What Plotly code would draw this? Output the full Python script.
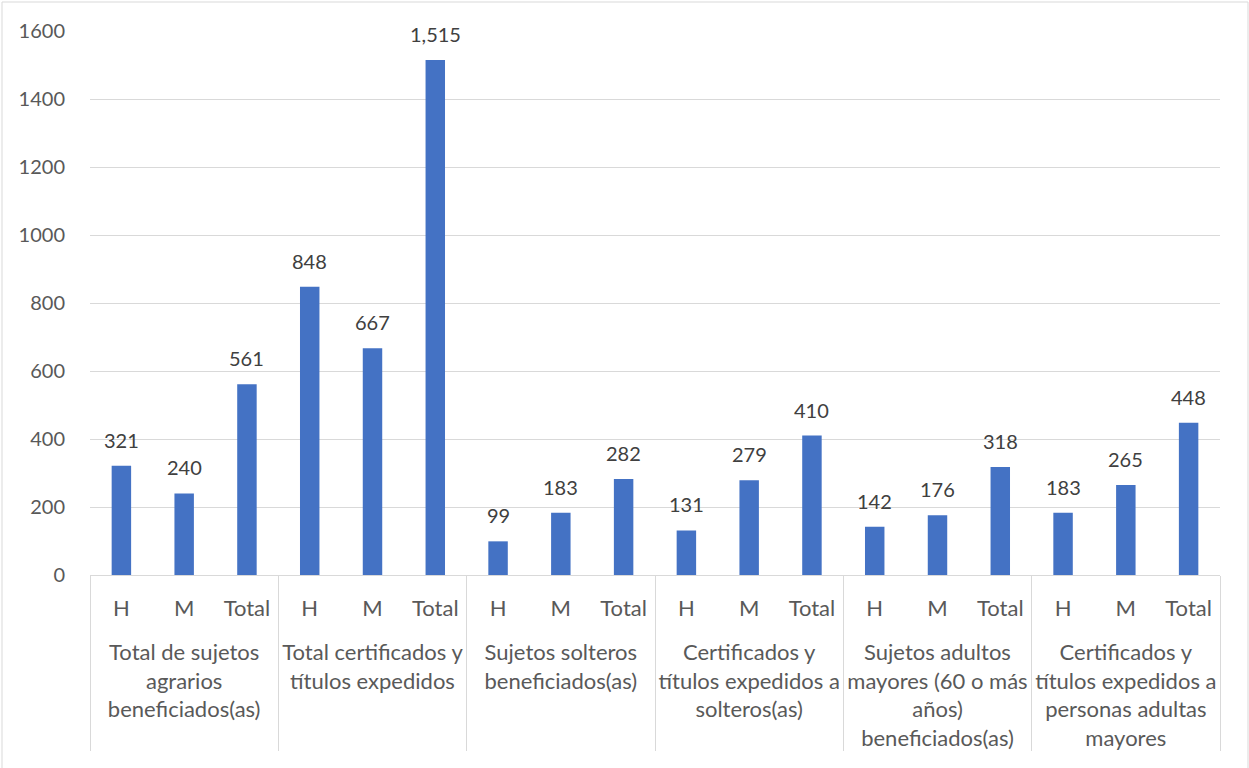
import plotly.graph_objects as go

groups = [
    "Total de sujetos<br>agrarios<br>beneficiados(as)",
    "Total certificados y<br>títulos expedidos",
    "Sujetos solteros<br>beneficiados(as)",
    "Certificados y<br>títulos expedidos a<br>solteros(as)",
    "Sujetos adultos<br>mayores (60 o más<br>años)<br>beneficiados(as)",
    "Certificados y<br>títulos expedidos a<br>personas adultas<br>mayores",
]
subcats = ["H", "M", "Total"]
values = [321, 240, 561, 848, 667, 1515, 99, 183, 282,
          131, 279, 410, 142, 176, 318, 183, 265, 448]

# leading blank line pushes the group labels below the H / M / Total row
x_groups = ["<br>" + g for g in groups for _ in subcats]
x_subs = [s for _ in groups for s in subcats]

FONT = "Lato"
W, H = 1249, 768
ML, MR, MT, MB = 90, 29, 31, 193

fig = go.Figure(go.Bar(
    x=[x_groups, x_subs],
    y=values,
    marker=dict(color="#4472C4", line=dict(width=0)),
    width=0.31,
    hoverinfo="y",
))

# data labels: anchored to each bar's category position and value
for i, v in enumerate(values):
    fig.add_annotation(
        x=i, y=v, xref="x", yref="y",
        text=f"{v:,}", showarrow=False,
        xanchor="center", yanchor="bottom", yshift=12,
        font=dict(family=FONT, size=20, color="#404040"),
    )

pw = W - ML - MR
ph = H - MT - MB
fig.add_shape(type="rect", xref="paper", yref="paper",
              x0=(2 - ML) / pw, x1=(W - 1 - ML) / pw,
              y0=(H - MB - (H + 5)) / ph, y1=(H - MB - 2) / ph,
              line=dict(color="#d9d9d9", width=1), fillcolor="rgba(0,0,0,0)",
              layer="below")

fig.update_layout(
    width=W, height=H,
    margin=dict(l=ML, r=MR, t=MT, b=MB, autoexpand=False),
    paper_bgcolor="white", plot_bgcolor="white",
    showlegend=False,
    font=dict(family=FONT, size=20, color="#595959"),
    xaxis=dict(
        type="multicategory",
        showline=True, linecolor="#d9d9d9", linewidth=1,
        showdividers=True, dividercolor="#d9d9d9", dividerwidth=1,
        ticks="", tickfont=dict(family=FONT, size=22, color="#595959"),
        ticklabelstandoff=14,
        automargin=False,
    ),
    yaxis=dict(
        range=[0, 1600], dtick=200, tick0=0,
        showgrid=True, gridcolor="#d9d9d9", gridwidth=1,
        zeroline=False, showline=False,
        tickfont=dict(family=FONT, size=20, color="#595959"),
        ticklabelstandoff=24,
        automargin=False,
    ),
)

fig.write_html("out.html", config={"displayModeBar": False},
               post_script="document.body.style.margin='0';")
